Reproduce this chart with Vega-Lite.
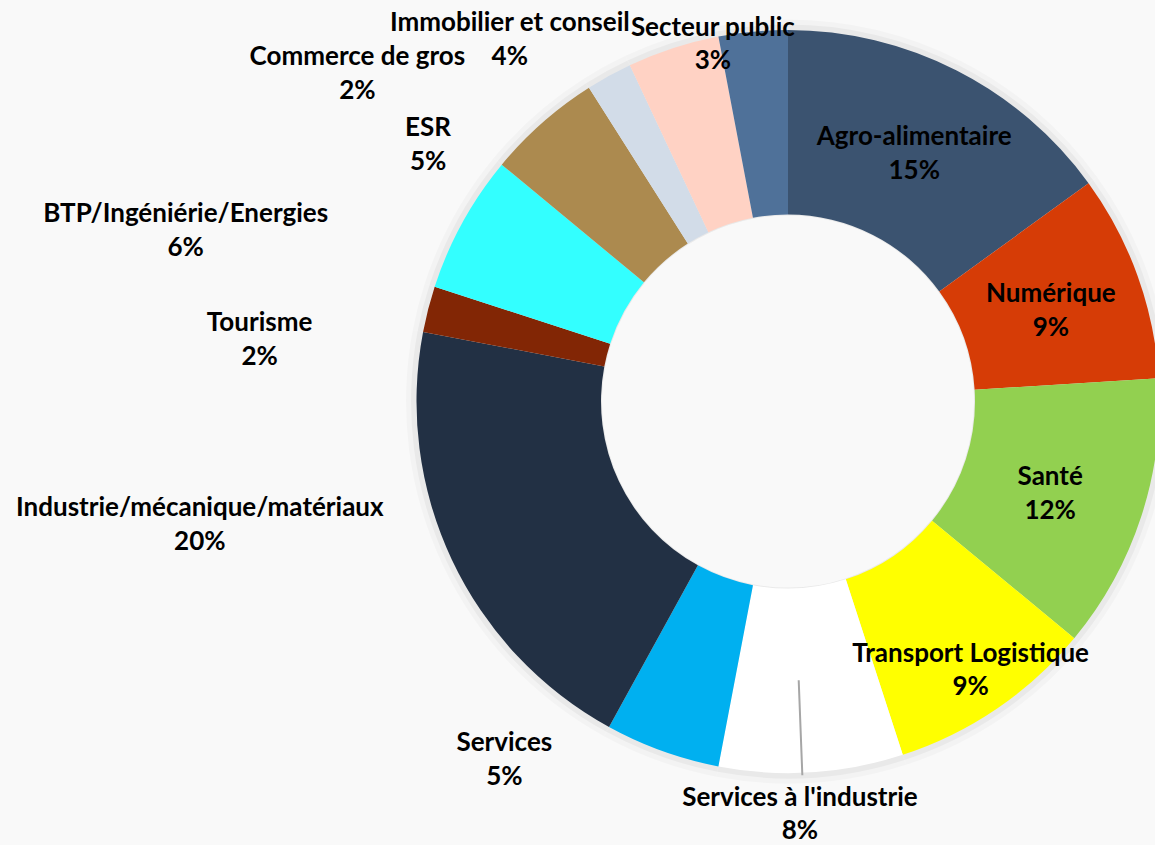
{
  "$schema": "https://vega.github.io/schema/vega-lite/v6.json",
  "width": 743,
  "height": 743,
  "autosize": {"type": "none"},
  "padding": {"left": 416.5, "top": 30, "right": 0, "bottom": 72},
  "background": "#f9f9f9",
  "config": {"view": {"stroke": null}, "font": "Lato"},
  "data": {
    "values": [
      {"rang": 1, "secteur": "Agro-alimentaire", "valeur": 15},
      {"rang": 2, "secteur": "Numérique", "valeur": 9},
      {"rang": 3, "secteur": "Santé", "valeur": 12},
      {"rang": 4, "secteur": "Transport Logistique", "valeur": 9},
      {"rang": 5, "secteur": "Services à l'industrie", "valeur": 8},
      {"rang": 6, "secteur": "Services", "valeur": 5},
      {"rang": 7, "secteur": "Industrie/mécanique/matériaux", "valeur": 20},
      {"rang": 8, "secteur": "Tourisme", "valeur": 2},
      {"rang": 9, "secteur": "BTP/Ingéniérie/Energies", "valeur": 6},
      {"rang": 10, "secteur": "ESR", "valeur": 5},
      {"rang": 11, "secteur": "Commerce de gros", "valeur": 2},
      {"rang": 12, "secteur": "Immobilier et conseil", "valeur": 4},
      {"rang": 13, "secteur": "Secteur public", "valeur": 3}
    ]
  },
  "encoding": {
    "theta": {"field": "valeur", "type": "quantitative", "stack": true},
    "order": {"field": "rang", "type": "quantitative"},
    "color": {
      "field": "secteur",
      "type": "nominal",
      "legend": null,
      "scale": {
        "domain": ["Agro-alimentaire", "Numérique", "Santé", "Transport Logistique", "Services à l'industrie", "Services", "Industrie/mécanique/matériaux", "Tourisme", "BTP/Ingéniérie/Energies", "ESR", "Commerce de gros", "Immobilier et conseil", "Secteur public"],
        "range": ["#3B5370", "#D63C06", "#92D050", "#FFFF00", "#FFFFFF", "#00B0F0", "#223044", "#822605", "#33FFFF", "#AC8A4F", "#D2DCE8", "#FFD2C4", "#4F7199"]
      }
    }
  },
  "layer": [
    {
      "mark": {"type": "arc", "outerRadius": 382, "innerRadius": 186, "opacity": 0.025},
      "encoding": {"color": {"value": "#000000"}}
    },
    {
      "mark": {"type": "arc", "outerRadius": 377, "innerRadius": 186, "opacity": 0.04},
      "encoding": {"color": {"value": "#000000"}}
    },
    {
      "mark": {"type": "arc", "outerRadius": 371.5, "innerRadius": 187}
    },
    {
      "transform": [
        {"stack": "valeur", "groupby": [], "sort": [{"field": "rang", "order": "ascending"}], "as": ["debut", "fin"]},
        {"filter": "datum.rang == 5"}
      ],
      "mark": {
        "type": "arc",
        "filled": false,
        "strokeWidth": 2,
        "innerRadius": 279,
        "outerRadius": 374,
        "thetaOffset": 0.2758,
        "theta2Offset": 0.2758
      },
      "encoding": {
        "theta": {"field": "debut", "type": "quantitative", "stack": null},
        "theta2": {"field": "debut"},
        "color": {"value": "#A6A6A6"}
      }
    },
    {
      "transform": [{"calculate": "datum.secteur + '\\n' + datum.valeur + '%'", "as": "etiquette"}],
      "mark": {
        "type": "text",
        "fontWeight": "bold",
        "fontSize": 26,
        "lineBreak": "\n",
        "lineHeight": 33.5,
        "dy": -16.75,
        "align": "center",
        "baseline": "middle",
        "radius": {"expr": "[278, 278, 278, 325, 413, 457, 601, 532, 626, 442, 541, 456, 365][datum.rang - 1]"},
        "thetaOffset": {"expr": "[0, 0.014, 0.025, 0, 0.034, 0.324, 0.233, -0.135, -0.227, -0.229, -0.418, -0.342, -0.113][datum.rang - 1]"}
      },
      "encoding": {
        "text": {"field": "etiquette", "type": "nominal"},
        "color": {"value": "#000000"}
      }
    }
  ]
}
